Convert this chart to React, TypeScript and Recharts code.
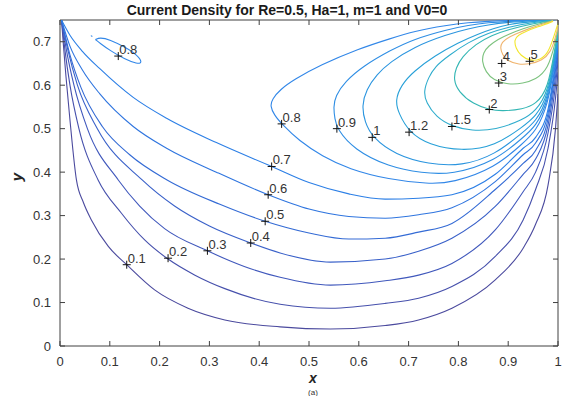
import React from "react";
import {
  ComposedChart,
  Line,
  Scatter,
  XAxis,
  YAxis,
  ReferenceLine,
} from "recharts";

type Pt = [number, number];

// contour lines: [x, y]
const c01: Pt[] = [
  [0.003, 0.75], [0.007, 0.69], [0.012, 0.62], [0.02, 0.52], [0.033, 0.382], [0.047, 0.33],
  [0.063, 0.29], [0.097, 0.229], [0.134, 0.187], [0.19, 0.129], [0.257, 0.087], [0.331, 0.06],
  [0.442, 0.044], [0.543, 0.039], [0.653, 0.047], [0.72, 0.06], [0.787, 0.087], [0.874, 0.152],
  [0.93, 0.225], [0.955, 0.28], [0.98, 0.37], [0.995, 0.5], [1, 0.58],
];
const c02: Pt[] = [
  [0.003, 0.75], [0.01, 0.68], [0.02, 0.6], [0.038, 0.5], [0.0765, 0.382], [0.123, 0.306],
  [0.17, 0.244], [0.217, 0.2], [0.271, 0.163], [0.331, 0.132], [0.442, 0.096], [0.543, 0.087],
  [0.653, 0.098], [0.72, 0.11], [0.787, 0.137], [0.874, 0.206], [0.93, 0.29], [0.955, 0.36],
  [0.98, 0.455], [0.995, 0.57], [1, 0.63],
];
const c03: Pt[] = [
  [0.003, 0.75], [0.013, 0.68], [0.028, 0.6], [0.055, 0.5], [0.117, 0.382], [0.16, 0.322],
  [0.21, 0.27], [0.296, 0.219], [0.37, 0.183], [0.442, 0.158], [0.543, 0.14], [0.653, 0.15],
  [0.72, 0.163], [0.787, 0.19], [0.874, 0.267], [0.93, 0.355], [0.955, 0.4], [0.98, 0.49],
  [0.995, 0.6], [1, 0.655],
];
const c04: Pt[] = [
  [0.003, 0.75], [0.016, 0.68], [0.035, 0.6], [0.075, 0.5], [0.165, 0.382], [0.23, 0.322],
  [0.3, 0.276], [0.383, 0.237], [0.442, 0.214], [0.543, 0.193], [0.653, 0.2], [0.72, 0.218],
  [0.787, 0.248], [0.874, 0.321], [0.93, 0.395], [0.955, 0.43], [0.98, 0.508], [0.995, 0.62],
  [1, 0.67],
];
const c05: Pt[] = [
  [0.003, 0.75], [0.02, 0.67], [0.042, 0.595], [0.085, 0.505], [0.14, 0.44], [0.215, 0.382],
  [0.321, 0.326], [0.412, 0.287], [0.5, 0.26], [0.58, 0.246], [0.653, 0.248], [0.72, 0.262],
  [0.787, 0.282], [0.874, 0.36], [0.93, 0.42], [0.955, 0.45], [0.98, 0.523], [0.995, 0.635],
  [1, 0.68],
];
const c06: Pt[] = [
  [0.003, 0.75], [0.02, 0.69], [0.045, 0.635], [0.08, 0.58], [0.147, 0.505], [0.214, 0.455],
  [0.314, 0.4], [0.418, 0.348], [0.5, 0.315], [0.58, 0.298], [0.653, 0.294], [0.72, 0.302],
  [0.787, 0.318], [0.874, 0.378], [0.93, 0.44], [0.955, 0.467], [0.98, 0.535], [0.995, 0.645],
  [1, 0.688],
];
const c07: Pt[] = [
  [0.003, 0.75], [0.02, 0.715], [0.045, 0.678], [0.08, 0.638], [0.147, 0.572], [0.214, 0.524],
  [0.314, 0.468], [0.425, 0.413], [0.5, 0.376], [0.58, 0.35], [0.653, 0.338], [0.72, 0.34],
  [0.787, 0.348], [0.874, 0.395], [0.93, 0.455], [0.955, 0.48], [0.98, 0.545], [0.995, 0.654],
  [1, 0.695],
];
const c08: Pt[] = [
  [0.995, 0.7499], [0.95, 0.7497], [0.9, 0.749], [0.86, 0.747], [0.82, 0.744], [0.777, 0.738],
  [0.71, 0.724], [0.663, 0.707], [0.6, 0.684], [0.522, 0.646], [0.47, 0.613], [0.442, 0.59],
  [0.426, 0.568], [0.422, 0.552], [0.43, 0.532], [0.445, 0.511], [0.48, 0.472], [0.526, 0.437],
  [0.58, 0.407], [0.66, 0.383], [0.74, 0.373], [0.787, 0.375], [0.874, 0.41], [0.93, 0.467],
  [0.955, 0.493], [0.98, 0.553], [0.995, 0.662], [1, 0.7],
];
const c08island: Pt[] = [
  [0.071, 0.705], [0.08, 0.71], [0.1, 0.705], [0.13, 0.688], [0.155, 0.67], [0.166, 0.651],
  [0.155, 0.649], [0.13, 0.66], [0.1, 0.68], [0.08, 0.697], [0.071, 0.705],
];
const c08dot: Pt[] = [[0.062, 0.714], [0.065, 0.712]];
const c09: Pt[] = [
  [0.99, 0.7498], [0.95, 0.749], [0.9, 0.747], [0.86, 0.744], [0.82, 0.738], [0.777, 0.728],
  [0.71, 0.706], [0.663, 0.68], [0.61, 0.645], [0.572, 0.608], [0.553, 0.575], [0.549, 0.55],
  [0.552, 0.522], [0.556, 0.5], [0.59, 0.452], [0.66, 0.412], [0.727, 0.398], [0.787, 0.394],
  [0.874, 0.425], [0.93, 0.48], [0.955, 0.505], [0.98, 0.56], [0.995, 0.668], [1, 0.705],
];
const c10: Pt[] = [
  [0.99, 0.7497], [0.95, 0.748], [0.9, 0.745], [0.86, 0.739], [0.82, 0.73], [0.777, 0.717],
  [0.71, 0.688], [0.663, 0.653], [0.636, 0.625], [0.615, 0.59], [0.606, 0.553], [0.612, 0.515],
  [0.627, 0.48], [0.673, 0.44], [0.74, 0.418], [0.807, 0.414], [0.874, 0.44], [0.93, 0.492],
  [0.955, 0.516], [0.98, 0.567], [0.995, 0.674], [1, 0.71],
];
const c12: Pt[] = [
  [0.99, 0.7495], [0.95, 0.747], [0.9, 0.74], [0.87, 0.73], [0.84, 0.718], [0.8, 0.698],
  [0.753, 0.668], [0.71, 0.632], [0.685, 0.6], [0.673, 0.565], [0.68, 0.535], [0.701, 0.492],
  [0.74, 0.463], [0.807, 0.448], [0.874, 0.46], [0.93, 0.505], [0.955, 0.528], [0.98, 0.574],
  [0.995, 0.68], [1, 0.715],
];
const c15: Pt[] = [
  [0.99, 0.749], [0.95, 0.745], [0.9, 0.734], [0.86, 0.72], [0.82, 0.699], [0.78, 0.668],
  [0.753, 0.643], [0.74, 0.618], [0.73, 0.586], [0.735, 0.56], [0.755, 0.527], [0.787, 0.505],
  [0.827, 0.495], [0.874, 0.497], [0.93, 0.52], [0.955, 0.541], [0.98, 0.582], [0.995, 0.686],
  [1, 0.72],
];
const c20: Pt[] = [
  [0.99, 0.749], [0.95, 0.742], [0.9, 0.728], [0.867, 0.715], [0.835, 0.695], [0.807, 0.665],
  [0.795, 0.64], [0.79, 0.613], [0.8, 0.585], [0.83, 0.556], [0.862, 0.544], [0.887, 0.54],
  [0.93, 0.545], [0.955, 0.556], [0.98, 0.59], [0.995, 0.693], [1, 0.725],
];
const c30: Pt[] = [
  [0.99, 0.748], [0.96, 0.741], [0.93, 0.73], [0.9, 0.717], [0.88, 0.706], [0.86, 0.69],
  [0.85, 0.675], [0.847, 0.655], [0.855, 0.63], [0.87, 0.612], [0.9, 0.601], [0.93, 0.604],
  [0.955, 0.613], [0.98, 0.636], [0.995, 0.7], [1, 0.73],
];
const c40: Pt[] = [
  [0.99, 0.748], [0.97, 0.741], [0.941, 0.73], [0.92, 0.72], [0.9, 0.71], [0.887, 0.699],
  [0.884, 0.686], [0.888, 0.67], [0.9, 0.655], [0.921, 0.647], [0.945, 0.649], [0.968, 0.657],
  [0.985, 0.675], [0.995, 0.71], [1, 0.735],
];
const c50: Pt[] = [
  [0.99, 0.747], [0.98, 0.742], [0.961, 0.735], [0.935, 0.724], [0.92, 0.715], [0.912, 0.705],
  [0.915, 0.685], [0.925, 0.668], [0.943, 0.656], [0.965, 0.658], [0.981, 0.675], [0.993, 0.717],
  [1, 0.742],
];

// open U-shaped curves are monotone in x, the loops are not
const contours: { name: string; pts: Pt[]; color: string; curve: "monotoneX" | "basis" }[] = [
  { name: "0.1", pts: c01, color: "#4b4a9e", curve: "monotoneX" },
  { name: "0.2", pts: c02, color: "#4650ac", curve: "monotoneX" },
  { name: "0.3", pts: c03, color: "#4058bc", curve: "monotoneX" },
  { name: "0.4", pts: c04, color: "#3a61c9", curve: "monotoneX" },
  { name: "0.5", pts: c05, color: "#346bd5", curve: "monotoneX" },
  { name: "0.6", pts: c06, color: "#2f75df", curve: "monotoneX" },
  { name: "0.7", pts: c07, color: "#2c7fe6", curve: "monotoneX" },
  { name: "0.8", pts: c08, color: "#3287e8", curve: "basis" },
  { name: "0.8b", pts: c08island, color: "#3287e8", curve: "basis" },
  { name: "0.8c", pts: c08dot, color: "#3287e8", curve: "basis" },
  { name: "0.9", pts: c09, color: "#2f8ee4", curve: "basis" },
  { name: "1", pts: c10, color: "#2b95df", curve: "basis" },
  { name: "1.2", pts: c12, color: "#28a0d8", curve: "basis" },
  { name: "1.5", pts: c15, color: "#2eaccd", curve: "basis" },
  { name: "2", pts: c20, color: "#33b6b4", curve: "basis" },
  { name: "3", pts: c30, color: "#7cc27e", curve: "basis" },
  { name: "4", pts: c40, color: "#f0b46e", curve: "basis" },
  { name: "5", pts: c50, color: "#f2e62c", curve: "basis" },
];

// contour labels (cross + text)
const labels = [
  { x: 0.134, y: 0.187, t: "0.1" },
  { x: 0.217, y: 0.202, t: "0.2" },
  { x: 0.296, y: 0.219, t: "0.3" },
  { x: 0.383, y: 0.237, t: "0.4" },
  { x: 0.412, y: 0.287, t: "0.5" },
  { x: 0.418, y: 0.348, t: "0.6" },
  { x: 0.425, y: 0.413, t: "0.7" },
  { x: 0.445, y: 0.511, t: "0.8" },
  { x: 0.117, y: 0.667, t: "0.8" },
  { x: 0.556, y: 0.5, t: "0.9" },
  { x: 0.627, y: 0.48, t: "1" },
  { x: 0.701, y: 0.492, t: "1.2" },
  { x: 0.787, y: 0.505, t: "1.5" },
  { x: 0.862, y: 0.544, t: "2" },
  { x: 0.881, y: 0.605, t: "3" },
  { x: 0.887, y: 0.65, t: "4" },
  { x: 0.943, y: 0.655, t: "5" },
];

const xTicks = [0, 0.1, 0.2, 0.3, 0.4, 0.5, 0.6, 0.7, 0.8, 0.9, 1];
const yTicks = [0, 0.1, 0.2, 0.3, 0.4, 0.5, 0.6, 0.7];

const W = 562;
const H = 396;
const TOP = 20;
const BOTTOM = 346;
const LEFT = 60;
const RIGHT = 558;
const FONT = "'Liberation Sans', Arial, Helvetica, sans-serif";
const AXIS = "#404040";

const XTick = (props: any) => {
  const { x, payload } = props;
  return (
    <g>
      <line x1={x} x2={x} y1={BOTTOM} y2={BOTTOM - 5} stroke={AXIS} />
      <line x1={x} x2={x} y1={TOP} y2={TOP + 5} stroke={AXIS} />
      <text x={x} y={BOTTOM + 20} textAnchor="middle" fontSize={13} fontFamily={FONT} fill="#333">
        {String(payload.value)}
      </text>
    </g>
  );
};

const YTick = (props: any) => {
  const { y, payload } = props;
  return (
    <g>
      <line x1={LEFT} x2={LEFT + 5} y1={y} y2={y} stroke={AXIS} />
      <line x1={RIGHT} x2={RIGHT - 5} y1={y} y2={y} stroke={AXIS} />
      <text x={51} y={y + 4.5} textAnchor="end" fontSize={13} fontFamily={FONT} fill="#333">
        {String(payload.value)}
      </text>
    </g>
  );
};

const Mark = (props: any) => {
  const { cx, cy, payload } = props;
  return (
    <g>
      <line x1={cx - 4} x2={cx + 4} y1={cy} y2={cy} stroke="#111" />
      <line x1={cx} x2={cx} y1={cy - 4} y2={cy + 4} stroke="#111" />
      <text x={cx + 1} y={cy - 2} fontSize={13} fontFamily={FONT} fill="#333">
        {payload.t}
      </text>
    </g>
  );
};

export default function App() {
  return (
    <div style={{ position: "absolute", left: 0, top: 0, width: W, height: H, background: "#fff" }}>
      <ComposedChart
        width={W}
        height={H}
        margin={{ top: TOP, right: W - RIGHT, bottom: 20, left: 20 }}
      >
        <XAxis
          dataKey="x"
          type="number"
          domain={[0, 1]}
          ticks={xTicks}
          tick={<XTick />}
          tickLine={false}
          height={30}
          stroke={AXIS}
          allowDataOverflow
        />
        <YAxis
          dataKey="y"
          type="number"
          domain={[0, 0.75]}
          ticks={yTicks}
          tick={<YTick />}
          tickLine={false}
          width={40}
          stroke={AXIS}
          allowDataOverflow
        />
        <ReferenceLine y={0.75} stroke={AXIS} />
        <ReferenceLine x={1} stroke={AXIS} />
        {contours.map((c) => (
          <Line
            key={c.name}
            data={c.pts.map(([x, y]) => ({ x, y }))}
            dataKey="y"
            type={c.curve}
            stroke={c.color}
            strokeWidth={1.1}
            dot={false}
            activeDot={false}
            isAnimationActive={false}
          />
        ))}
        <Scatter data={labels} dataKey="y" shape={<Mark />} isAnimationActive={false} />
      </ComposedChart>
      <svg
        width={W}
        height={H}
        style={{ position: "absolute", left: 0, top: 0, pointerEvents: "none" }}
      >
        <text x={287} y={15} textAnchor="middle" fontSize={14} fontWeight="bold" fontFamily={FONT} fill="#1a1a1a">
          Current Density for Re=0.5, Ha=1, m=1 and V0=0
        </text>
        <text x={313} y={383} textAnchor="middle" fontSize={14} fontWeight="bold" fontStyle="italic" fontFamily={FONT} fill="#262626">
          x
        </text>
        <text x={22} y={177} textAnchor="middle" fontSize={15} fontWeight="bold" fontStyle="italic" fontFamily={FONT} fill="#262626" transform="rotate(-90 22 177)">
          y
        </text>
        <text x={313} y={395} textAnchor="middle" fontSize={8} fontFamily={FONT} fill="#333">
          (a)
        </text>
      </svg>
    </div>
  );
}
